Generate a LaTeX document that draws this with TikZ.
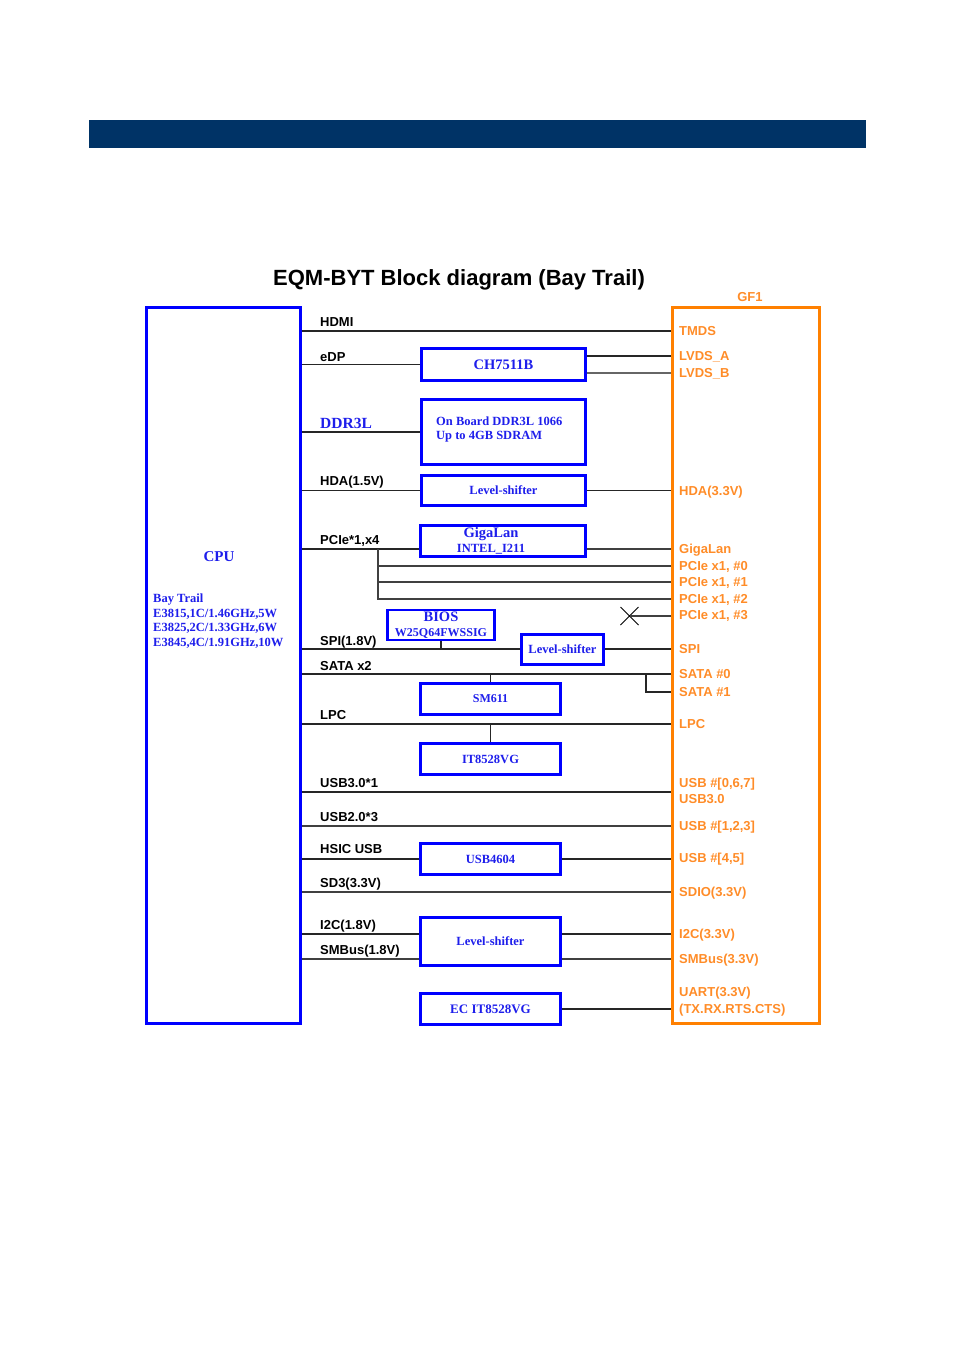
\documentclass[tikz,border=0pt]{standalone}
\usepackage{fontspec}
\setmainfont{Liberation Serif}
\setsansfont{Liberation Sans}
\usetikzlibrary{shapes.misc,positioning}

\definecolor{hdrblue}{RGB}{0,51,102}
\definecolor{boxblue}{RGB}{0,0,255}
\definecolor{txtblue}{RGB}{30,30,235}
\definecolor{gforange}{RGB}{255,128,0}
\definecolor{lblorange}{RGB}{255,140,40}

\tikzset{
  blk/.style={draw=boxblue, line width=2.6pt, inner sep=0pt, text=txtblue,
    font=\bfseries\fontsize{12.5}{16}\selectfont, align=center},
  wire/.style={line width=1.3pt, black!85},
  bus/.style={line width=1.8pt, black!75},
  llbl/.style={anchor=base west, inner sep=0pt, font=\sffamily\bfseries\fontsize{13}{15}\selectfont},
  rlbl/.style={anchor=west, inner sep=0pt, text height=9.3pt, text depth=0pt, text=lblorange,
    font=\sffamily\bfseries\fontsize{13}{15}\selectfont},
}

\begin{document}
\begin{tikzpicture}[x=1pt,y=-1pt]
  \useasboundingbox (0,0) rectangle (955,1350);

  % header bar and title
  \fill[hdrblue] (89,120) rectangle (866,148);
  \node[anchor=base, font=\sffamily\bfseries\fontsize{22}{26}\selectfont] (title) at (459,285) {EQM-BYT Block diagram (Bay Trail)};

  % CPU and GF1
  \node[blk, minimum width=154pt, minimum height=716pt] (cpu) at (223.5,665.5) {};
  \node[draw=gforange, line width=2.6pt, minimum width=147pt, minimum height=716pt] (gf) at (746,665.5) {};
  \node[text=lblorange, font=\sffamily\bfseries\fontsize{13}{15}\selectfont] (gfname) at (750,297) {GF1};
  \node[text=txtblue, font=\bfseries\fontsize{15}{17}\selectfont] (cpuname) at (219,557) {CPU};
  \node[anchor=west, align=left, inner sep=0pt, text=txtblue, font=\bfseries\fontsize{12.5}{14.7}\selectfont] (cpuinfo) at (153,621)
    {Bay Trail\\E3815,1C/1.46GHz,5W\\E3825,2C/1.33GHz,6W\\E3845,4C/1.91GHz,10W};

  % chips
  \node[blk, minimum width=164pt, minimum height=32pt, font=\bfseries\fontsize{14.5}{16}\selectfont] (ch) at (503.5,364.5) {CH7511B};
  \node[blk, minimum width=164pt, minimum height=65pt] (ddr) at (503.5,432) {};
  \node[anchor=west, align=left, inner sep=0pt, text=txtblue, font=\bfseries\fontsize{12.5}{14}\selectfont] (ddrtext) at (436,429)
    {On Board DDR3L 1066\\Up to 4GB SDRAM};
  \node[blk, minimum width=164pt, minimum height=30pt] (lsHda) at (503.5,490.5) {Level-shifter};
  \node[blk, minimum width=165pt, minimum height=31pt] (lan) at (503,541) {};
  \node[align=center, inner sep=0pt, text=txtblue, font=\bfseries\fontsize{12.5}{14.5}\selectfont] (lantext) at (491,541)
    {{\fontsize{14.5}{14.5}\selectfont GigaLan}\\INTEL\_I211};
  \node[blk, minimum width=107pt, minimum height=30pt, font=\bfseries\fontsize{12}{15.5}\selectfont] (bios) at (441,625)
    {{\fontsize{14.5}{14.5}\selectfont BIOS}\\W25Q64FWSSIG};
  \node[blk, minimum width=82pt, minimum height=30pt] (lsSpi) at (562.5,649.5) {Level-shifter};
  \node[blk, minimum width=140pt, minimum height=31pt, font=\bfseries\fontsize{12}{14}\selectfont] (sm) at (490.5,699) {SM611};
  \node[blk, minimum width=140pt, minimum height=31pt] (ite) at (490.5,759) {IT8528VG};
  \node[blk, minimum width=140pt, minimum height=31pt] (hub) at (490.5,859) {USB4604};
  \node[blk, minimum width=140pt, minimum height=48pt] (lsI2c) at (490.5,941.5) {Level-shifter};
  \node[blk, minimum width=140pt, minimum height=31pt, font=\bfseries\fontsize{13}{15}\selectfont] (ec) at (490.5,1009) {EC IT8528VG};

  % CPU side labels
  \node[llbl] (lHdmi) at (320,326.5) {HDMI};
  \node[llbl] (lEdp) at (320,361.5) {eDP};
  \node[anchor=base west, inner sep=0pt, text=txtblue, font=\bfseries\fontsize{15.5}{17}\selectfont] (lDdr) at (320,428) {DDR3L};
  \node[llbl] (lHda) at (320,485.5) {HDA(1.5V)};
  \node[llbl] (lPcie) at (320,544.5) {PCIe*1,x4};
  \node[llbl] (lSpi) at (320,645) {SPI(1.8V)};
  \node[llbl] (lSata) at (320,670) {SATA x2};
  \node[llbl] (lLpc) at (320,719.5) {LPC};
  \node[llbl] (lUsb3) at (320,787.5) {USB3.0*1};
  \node[llbl] (lUsb2) at (320,821.5) {USB2.0*3};
  \node[llbl] (lHsic) at (320,853.5) {HSIC USB};
  \node[llbl] (lSd) at (320,887.5) {SD3(3.3V)};
  \node[llbl] (lI2c) at (320,929.5) {I2C(1.8V)};
  \node[llbl] (lSmb) at (320,954.5) {SMBus(1.8V)};

  % GF1 side labels
  \node[rlbl] (tmds) at (679,331) {TMDS};
  \node[rlbl] (lvdsa) at (679,356) {LVDS\_A};
  \node[rlbl] (lvdsb) at (679,373) {LVDS\_B};
  \node[rlbl] (hda33) at (679,491) {HDA(3.3V)};
  \node[rlbl] (rlan) at (679,549) {GigaLan};
  \node[rlbl] (pcie0) at (679,566) {PCIe x1, \#0};
  \node[rlbl] (pcie1) at (679,582) {PCIe x1, \#1};
  \node[rlbl] (pcie2) at (679,599) {PCIe x1, \#2};
  \node[rlbl] (pcie3) at (679,615) {PCIe x1, \#3};
  \node[rlbl] (spi) at (679,649) {SPI};
  \node[rlbl] (sata0) at (679,674) {SATA \#0};
  \node[rlbl] (sata1) at (679,692) {SATA \#1};
  \node[rlbl] (lpc) at (679,724) {LPC};
  \node[rlbl] (usb067) at (679,783) {USB \#[0,6,7]};
  \node[rlbl] (usb30) at (679,799) {USB3.0};
  \node[rlbl] (usb123) at (679,826) {USB \#[1,2,3]};
  \node[rlbl] (usb45) at (679,858) {USB \#[4,5]};
  \node[rlbl] (sdio) at (679,892) {SDIO(3.3V)};
  \node[rlbl] (i2c33) at (679,934) {I2C(3.3V)};
  \node[rlbl] (smb33) at (679,959) {SMBus(3.3V)};
  \node[rlbl] (uart) at (679,992) {UART(3.3V)};
  \node[rlbl] (uartsig) at (679,1009) {(TX.RX.RTS.CTS)};

  % straight CPU to GF1 wires
  \foreach \sig in {tmds,sata0,lpc}
    \draw[wire] (cpu.east |- \sig.west) -- (gf.west |- \sig.west);
  \foreach \sig in {usb123,sdio}
    \draw[bus] (cpu.east |- \sig.west) -- (gf.west |- \sig.west);
  \coordinate (usb3tap) at (679,792);
  \draw[wire] (cpu.east |- usb3tap) -- (gf.west |- usb3tap);

  % display
  \draw[wire] (cpu.east |- ch.west) -- (ch.west);
  \draw[wire] (ch.east |- lvdsa.west) -- (gf.west |- lvdsa.west);
  \draw[bus, black!60] (ch.east |- lvdsb.west) -- (gf.west |- lvdsb.west);

  % memory, audio
  \draw[wire] (cpu.east |- ddr.west) -- (ddr.west);
  \draw[wire] (cpu.east |- lsHda.west) -- (lsHda.west);
  \draw[wire] (lsHda.east) -- (gf.west |- lsHda.east);

  % PCIe
  \draw[wire] (cpu.east |- rlan.west) -- (lan.west |- rlan.west);
  \draw[bus] (lan.east |- rlan.west) -- (gf.west |- rlan.west);
  \coordinate (pcietap) at (378,549);
  \draw[bus] (pcietap) |- (gf.west |- pcie2.west);
  \foreach \sig in {pcie0,pcie1}
    \draw[bus] (pcietap |- \sig.west) -- (gf.west |- \sig.west);
  \node[draw, cross out, line width=1pt, minimum size=17pt, inner sep=0pt] (nc) at (629.5,616) {};
  \draw[bus] (nc.center) -- (gf.west |- nc.center);

  % SPI
  \draw[wire] (bios.south) -- (bios.south |- spi.west);
  \draw[wire] (cpu.east |- spi.west) -- (lsSpi.west |- spi.west);
  \draw[wire] (lsSpi.east |- spi.west) -- (gf.west |- spi.west);

  % SATA, LPC
  \draw[wire] (sm.north) -- (sm.north |- sata0.west);
  \coordinate (satatap) at (646,674);
  \draw[wire] (satatap) |- (gf.west |- sata1.west);
  \draw[wire] (ite.north) -- (ite.north |- lpc.west);

  % HSIC
  \draw[wire] (cpu.east |- hub.west) -- (hub.west);
  \draw[wire] (hub.east) -- (gf.west |- hub.east);

  % I2C, SMBus
  \draw[wire] (cpu.east |- i2c33.west) -- (lsI2c.west |- i2c33.west);
  \draw[wire] (lsI2c.east |- i2c33.west) -- (gf.west |- i2c33.west);
  \draw[bus] (cpu.east |- smb33.west) -- (lsI2c.west |- smb33.west);
  \draw[bus] (lsI2c.east |- smb33.west) -- (gf.west |- smb33.west);

  % UART
  \draw[wire] (ec.east) -- (gf.west |- ec.east);
\end{tikzpicture}
\end{document}
